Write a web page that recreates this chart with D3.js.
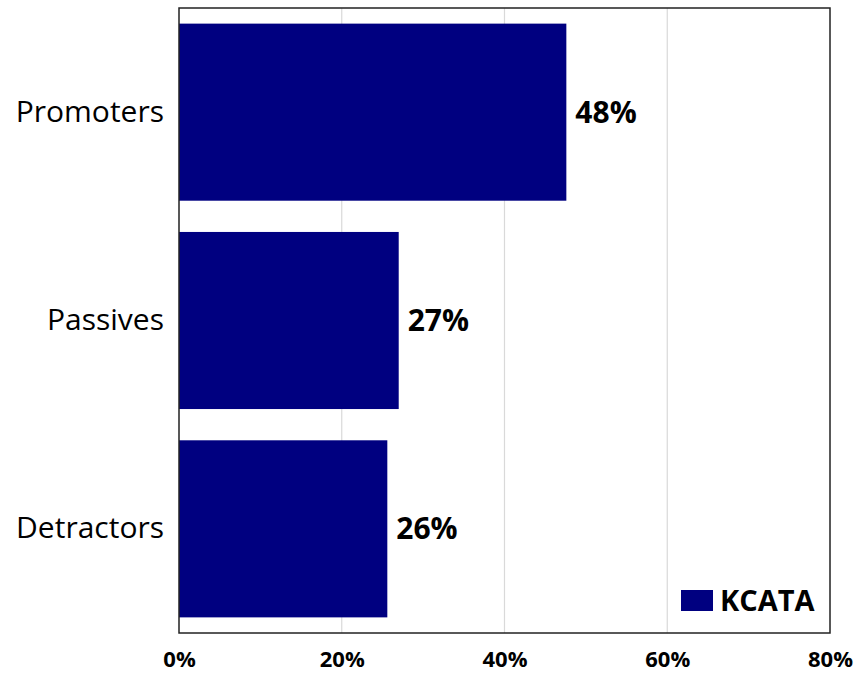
<!DOCTYPE html>
<html>
<head>
<meta charset="utf-8">
<script src="https://cdn.jsdelivr.net/npm/d3@7/dist/d3.min.js"></script>
<style>
  html, body { margin: 0; padding: 0; background: #fff; }
  svg { display: block; font-family: "Open Sans", Lato, sans-serif; }
</style>
</head>
<body>
<svg id="chart" width="855" height="673"></svg>
<script>
// Net promoter breakdown (share of respondents, %)
const categories = ["Promoters", "Passives", "Detractors"];
const values = [47.6, 27.0, 25.6];
const seriesName = "KCATA";
const xTicks = [0, 20, 40, 60, 80];

const W = 855, H = 673;
const margin = { top: 8, right: 25, bottom: 40, left: 179 };
const innerW = W - margin.left - margin.right;
const innerH = H - margin.top - margin.bottom;
const FONT = "'Open Sans', Lato, sans-serif";

const svg = d3.select("#chart");
const g = svg.append("g").attr("transform", `translate(${margin.left},${margin.top})`);

const x = d3.scaleLinear().domain([0, 80]).range([0, innerW]);
const y = d3.scaleBand().domain(categories).range([0, innerH])
  .paddingInner(0.15).paddingOuter(0.075);

// vertical gridlines
g.append("g").selectAll("line")
  .data(xTicks.filter(t => t > 0 && t < 80))
  .join("line")
  .attr("x1", d => x(d)).attr("x2", d => x(d))
  .attr("y1", 0).attr("y2", innerH)
  .attr("stroke", "#d9d9d9").attr("stroke-width", 1.2);

// bars
const data = categories.map((c, i) => ({ c, v: values[i] }));
g.append("g").selectAll("rect")
  .data(data)
  .join("rect")
  .attr("x", 0)
  .attr("y", d => y(d.c))
  .attr("width", d => x(d.v))
  .attr("height", y.bandwidth())
  .attr("fill", "#000080");

// value labels
const fmt = v => d3.format(".0f")(v) + "%";
g.append("g").selectAll("text")
  .data(data)
  .join("text")
  .attr("x", d => x(d.v) + 9)
  .attr("y", d => y(d.c) + y.bandwidth() / 2)
  .attr("dy", "0.35em")
  .attr("font-size", 30)
  .attr("font-weight", "bold")
  .attr("font-family", FONT)
  .attr("fill", "#000")
  .text(d => fmt(d.v));

// frame
g.append("rect")
  .attr("x", 0).attr("y", 0)
  .attr("width", innerW).attr("height", innerH)
  .attr("fill", "none").attr("stroke", "#222").attr("stroke-width", 1.5);

// category axis
const yAxis = g.append("g").call(d3.axisLeft(y).tickSize(0).tickPadding(15));
yAxis.select(".domain").remove();
yAxis.selectAll("text").attr("font-size", 30).attr("fill", "#000")
  .attr("font-family", FONT);

// value axis
const xAxis = g.append("g").attr("transform", `translate(0,${innerH})`)
  .call(d3.axisBottom(x).tickValues(xTicks).tickSize(0).tickPadding(18)
    .tickFormat(d => d + "%"));
xAxis.select(".domain").remove();
xAxis.selectAll("text").attr("font-size", 22).attr("font-weight", "bold")
  .attr("fill", "#000").attr("font-family", FONT);

// legend
const lg = g.append("g").attr("transform", `translate(${innerW - 149},${innerH - 43})`);
lg.append("rect").attr("width", 32).attr("height", 21).attr("fill", "#000080");
lg.append("text").attr("x", 39).attr("y", 10.5).attr("dy", "0.36em")
  .attr("font-size", 29).attr("font-weight", "bold").attr("fill", "#000")
  .attr("font-family", FONT)
  .text(seriesName);
</script>
</body>
</html>
